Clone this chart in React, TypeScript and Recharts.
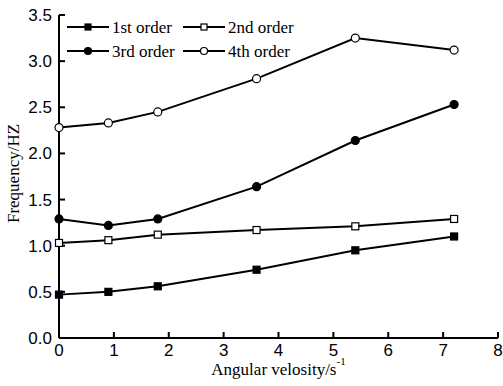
import React from "react";
import { LineChart, Line, XAxis, YAxis, Legend, Label } from "recharts";

const velocity = [0, 0.9, 1.8, 3.6, 5.4, 7.2];
const firstOrder = [0.47, 0.5, 0.56, 0.74, 0.95, 1.1];
const secondOrder = [1.03, 1.06, 1.12, 1.17, 1.21, 1.29];
const thirdOrder = [1.29, 1.22, 1.29, 1.64, 2.14, 2.53];
const fourthOrder = [2.28, 2.33, 2.45, 2.81, 3.25, 3.12];

const xTicks = [0, 1, 2, 3, 4, 5, 6, 7, 8];
const yTicks = [0, 0.5, 1, 1.5, 2, 2.5, 3, 3.5];

const series = [
  { key: "first", name: "1st order", shape: "square", filled: true },
  { key: "second", name: "2nd order", shape: "square", filled: false },
  { key: "third", name: "3rd order", shape: "circle", filled: true },
  { key: "fourth", name: "4th order", shape: "circle", filled: false },
];

const data = velocity.map((v, i) => ({
  v,
  first: firstOrder[i],
  second: secondOrder[i],
  third: thirdOrder[i],
  fourth: fourthOrder[i],
}));

const serif = "'Liberation Serif', 'Times New Roman', serif";
const sans = "'Liberation Sans', Arial, sans-serif";

const Marker = ({ cx, cy, shape, filled, size = 7 }: any) => {
  const fill = filled ? "#000" : "#fff";
  if (shape === "square") {
    return (
      <rect
        x={cx - size / 2}
        y={cy - size / 2}
        width={size}
        height={size}
        fill={fill}
        stroke="#000"
        strokeWidth={1.2}
      />
    );
  }
  return <circle cx={cx} cy={cy} r={size / 2 + 0.5} fill={fill} stroke="#000" strokeWidth={1.2} />;
};

const makeDot = (shape: string, filled: boolean) => (props: any) => {
  const { cx, cy, index } = props;
  return <Marker key={index} cx={cx} cy={cy} shape={shape} filled={filled} />;
};

const LegendContent = ({ payload }: any) => {
  const colX = [5, 121];
  const rowY = [13, 37];
  return (
    <svg width={260} height={50}>
      {(payload || []).map((entry: any, i: number) => {
        const s = series.find((d) => d.key === entry.dataKey) || series[i];
        const x = colX[i % 2];
        const y = rowY[Math.floor(i / 2)];
        return (
          <g key={s.key}>
            <line x1={x} y1={y} x2={x + 42} y2={y} stroke="#000" strokeWidth={2} />
            <Marker cx={x + 21} cy={y} shape={s.shape} filled={s.filled} size={6} />
            <text x={x + 45} y={y + 6} fontFamily={serif} fontSize={17} fill="#000">
              {entry.value}
            </text>
          </g>
        );
      })}
    </svg>
  );
};

const XLabel = ({ viewBox }: any) => {
  const cx = viewBox.x + viewBox.width / 2;
  const y = viewBox.y + 37;
  return (
    <text x={cx} y={y} textAnchor="middle" fontFamily={serif} fontSize={17} fill="#000">
      Angular velosity/s
      <tspan dy={-10} fontSize={11}>-1</tspan>
    </text>
  );
};

const YLabel = ({ viewBox }: any) => {
  const x = 19;
  const y = viewBox.y + viewBox.height / 2 - 3;
  return (
    <text
      x={x}
      y={y}
      transform={`rotate(-90, ${x}, ${y})`}
      textAnchor="middle"
      fontFamily={serif}
      fontSize={17}
      fill="#000"
    >
      Frequency/HZ
    </text>
  );
};

export default function App() {
  return (
    <div style={{ position: "absolute", left: 0, top: 0, background: "#fff" }}>
      <LineChart
        width={503}
        height={386}
        data={data}
        margin={{ top: 15, right: 5, left: 0, bottom: 0 }}
      >
        <XAxis
          type="number"
          dataKey="v"
          domain={[0, 8]}
          ticks={xTicks}
          interval={0}
          height={48}
          axisLine={{ stroke: "#000", strokeWidth: 2 }}
          tickLine={{ stroke: "#000", strokeWidth: 2 }}
          tickSize={-6}
          tickMargin={12}
          tick={{ fill: "#000", fontSize: 17, fontFamily: sans }}
        >
          <Label content={<XLabel />} />
        </XAxis>
        <YAxis
          type="number"
          domain={[0, 3.5]}
          ticks={yTicks}
          interval={0}
          width={59}
          axisLine={{ stroke: "#000", strokeWidth: 2 }}
          tickLine={{ stroke: "#000", strokeWidth: 2 }}
          tickSize={-6}
          tickMargin={13}
          tickFormatter={(v: number) => v.toFixed(1)}
          tick={{ fill: "#000", fontSize: 17, fontFamily: sans }}
        >
          <Label content={<YLabel />} />
        </YAxis>
        <Legend
          layout="horizontal"
          verticalAlign="middle"
          align="center"
          wrapperStyle={{ top: 14, left: 62, width: 260, height: 50 }}
          content={<LegendContent />}
        />
        {series.map((s) => (
          <Line
            key={s.key}
            dataKey={s.key}
            name={s.name}
            stroke="#000"
            strokeWidth={2}
            dot={makeDot(s.shape, s.filled)}
            activeDot={false}
            isAnimationActive={false}
          />
        ))}
      </LineChart>
    </div>
  );
}
